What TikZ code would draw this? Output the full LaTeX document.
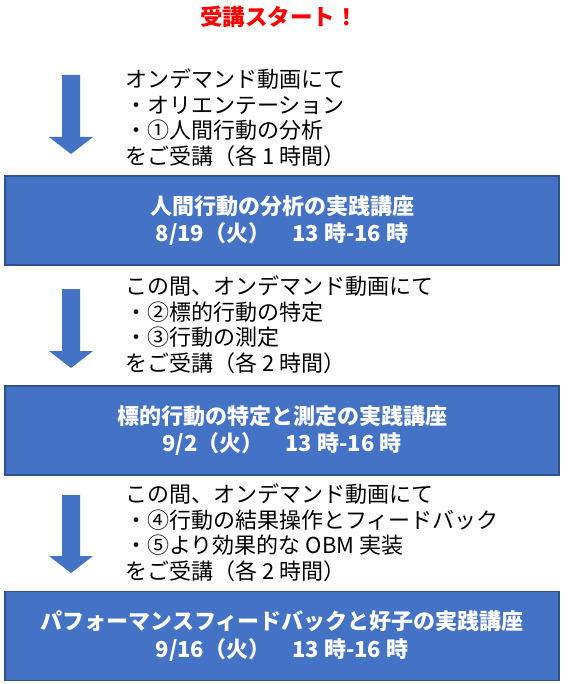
\documentclass[tikz,border=0pt]{standalone}
\usepackage{fontspec}
\setmainfont{Noto Sans CJK JP}
\definecolor{boxblue}{HTML}{4472C4}
\definecolor{boxedge}{HTML}{2F528F}
\definecolor{titlered}{HTML}{FF0000}
\tikzset{
  stagebox/.style={draw=boxedge, line width=1.2pt, fill=boxblue, text=white,
    minimum width=554pt, minimum height=89pt, inner sep=0pt, align=center,
    font=\bfseries\fontsize{22}{27.5}\selectfont},
  notetext/.style={anchor=north west, inner sep=0pt, align=left,
    font=\fontsize{22}{25.4}\selectfont},
  arrowfill/.style={fill=boxblue},
}
\newcommand\bigdownarrow[3]{\fill[arrowfill] (62,#1) -- (80,#1) -- (80,#2) -- (93,#2) -- (71,#3) -- (49,#2) -- (62,#2) -- cycle;}
\begin{document}
\begin{tikzpicture}[x=1pt,y=-1pt]
\useasboundingbox[fill=white] (0,0) rectangle (567,684);
\node[text=titlered, font=\bfseries\fontsize{22.5}{27}\selectfont, inner sep=0pt] (title) at (279,17) {受講スタート！};

\bigdownarrow{75}{137}{154}
\node[notetext] (note1) at (125,69) {オンデマンド動画にて\\・オリエンテーション\\・①人間行動の分析\\をご受講（各 1 時間）};
\node[stagebox] (s1) at (282,220.5) {人間行動の分析の実践講座\\8/19（火）　13 時-16 時};

\bigdownarrow{289}{351}{368}
\node[notetext] (note2) at (125,276) {この間、オンデマンド動画にて\\・②標的行動の特定\\・③行動の測定\\をご受講（各 2 時間）};
\node[stagebox] (s2) at (282,430.5) {標的行動の特定と測定の実践講座\\9/2（火）　13 時-16 時};

\bigdownarrow{495}{556}{573}
\node[notetext] (note3) at (125,484) {この間、オンデマンド動画にて\\・④行動の結果操作とフィードバック\\・⑤より効果的な OBM 実装\\をご受講（各 2 時間）};
\node[stagebox] (s3) at (282,636) {パフォーマンスフィードバックと好子の実践講座\\9/16（火）　13 時-16 時};
\end{tikzpicture}
\end{document}
